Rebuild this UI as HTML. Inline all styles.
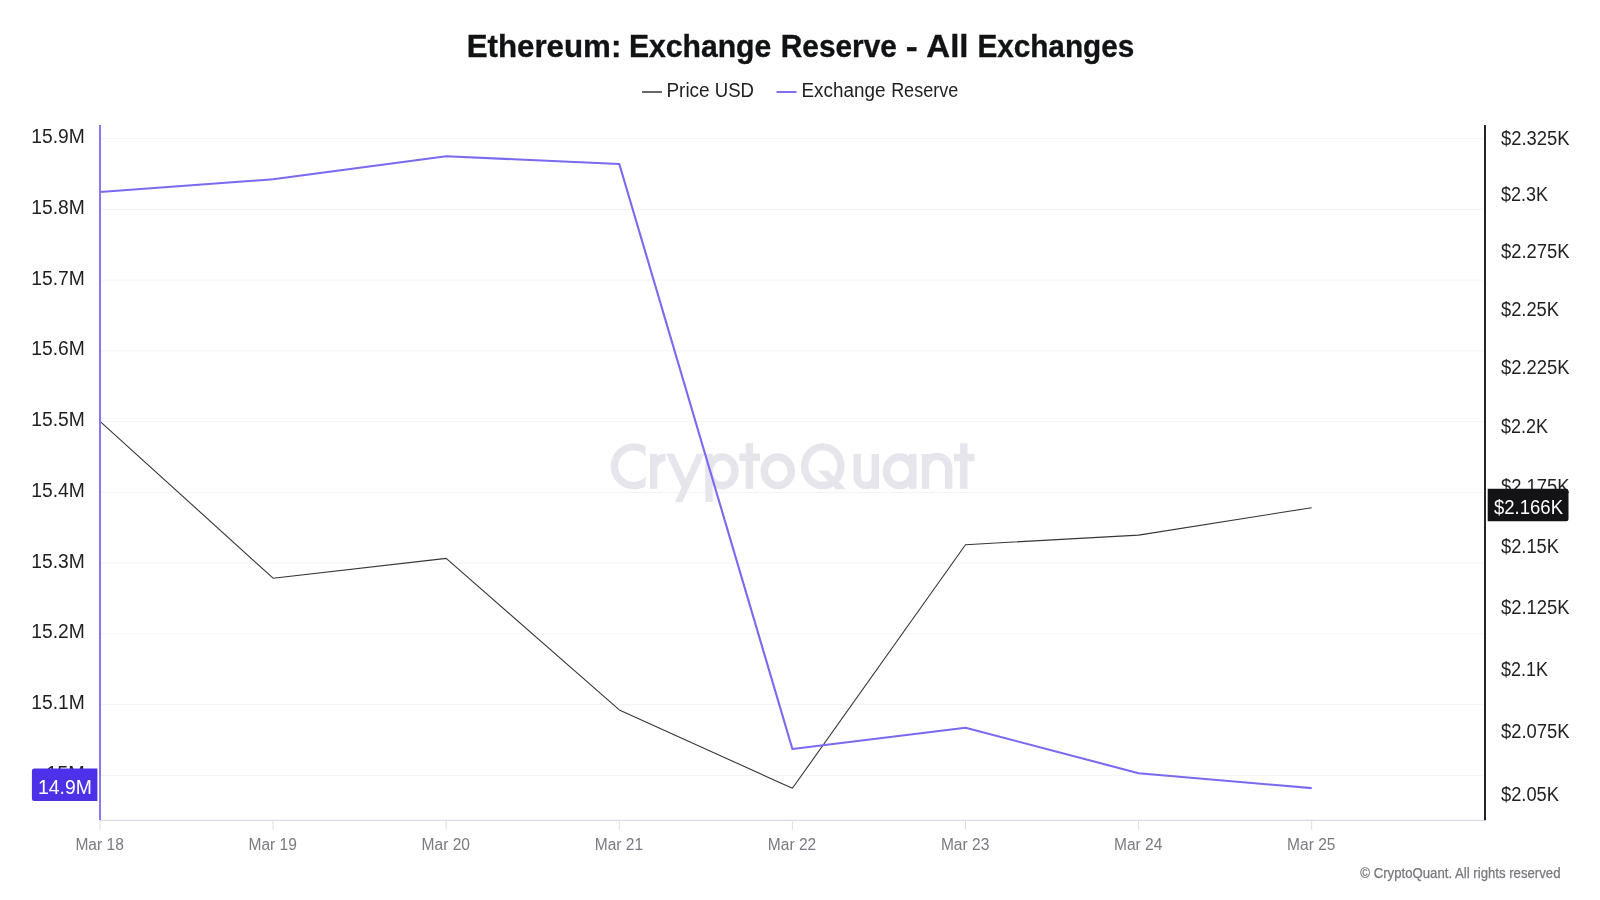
<!DOCTYPE html>
<html><head><meta charset="utf-8"><title>Ethereum: Exchange Reserve - All Exchanges</title>
<style>html,body{margin:0;padding:0;background:#fff;}body{width:1600px;height:900px;overflow:hidden;font-family:"Liberation Sans",sans-serif;}svg{display:block;position:absolute;left:0;top:0;will-change:transform}text{font-family:"Liberation Sans",sans-serif;}</style></head><body>
<svg width="1600" height="900" viewBox="0 0 1600 900">
<rect width="1600" height="900" fill="#ffffff"/>
<text x="466.63" y="57.1" font-size="31.6" font-weight="bold" fill="#111214" stroke="#111214" stroke-width="0.35" textLength="154.73" lengthAdjust="spacingAndGlyphs">Ethereum:</text>
<text x="628.90" y="57.1" font-size="31.6" font-weight="bold" fill="#111214" stroke="#111214" stroke-width="0.35" textLength="142.35" lengthAdjust="spacingAndGlyphs">Exchange</text>
<text x="780.78" y="57.1" font-size="31.6" font-weight="bold" fill="#111214" stroke="#111214" stroke-width="0.35" textLength="116.09" lengthAdjust="spacingAndGlyphs">Reserve</text>
<text x="905.75" y="57.1" font-size="31.6" font-weight="bold" fill="#111214" stroke="#111214" stroke-width="0.35" textLength="11.96" lengthAdjust="spacingAndGlyphs">-</text>
<text x="926.36" y="57.1" font-size="31.6" font-weight="bold" fill="#111214" stroke="#111214" stroke-width="0.35" textLength="42.15" lengthAdjust="spacingAndGlyphs">All</text>
<text x="977.39" y="57.1" font-size="31.6" font-weight="bold" fill="#111214" stroke="#111214" stroke-width="0.35" textLength="156.84" lengthAdjust="spacingAndGlyphs">Exchanges</text>
<line x1="642" y1="92" x2="662" y2="92" stroke="#6a6a6d" stroke-width="2"/>
<text x="666.47" y="96.9" font-size="19.4" fill="#1f1f1f" textLength="43.16" lengthAdjust="spacingAndGlyphs">Price</text>
<text x="714.74" y="96.9" font-size="19.4" fill="#1f1f1f" textLength="39.24" lengthAdjust="spacingAndGlyphs">USD</text>
<line x1="776.6" y1="92" x2="796.5" y2="92" stroke="#8070ef" stroke-width="2"/>
<text x="801.54" y="96.9" font-size="19.4" fill="#1f1f1f" textLength="83.87" lengthAdjust="spacingAndGlyphs">Exchange</text>
<text x="891.13" y="96.9" font-size="19.4" fill="#1f1f1f" textLength="67.04" lengthAdjust="spacingAndGlyphs">Reserve</text>
<line x1="100" y1="138.60" x2="1483" y2="138.60" stroke="#f3f3f6" stroke-width="1"/>
<line x1="100" y1="209.35" x2="1483" y2="209.35" stroke="#f3f3f6" stroke-width="1"/>
<line x1="100" y1="280.11" x2="1483" y2="280.11" stroke="#f3f3f6" stroke-width="1"/>
<line x1="100" y1="350.87" x2="1483" y2="350.87" stroke="#f3f3f6" stroke-width="1"/>
<line x1="100" y1="421.62" x2="1483" y2="421.62" stroke="#f3f3f6" stroke-width="1"/>
<line x1="100" y1="492.38" x2="1483" y2="492.38" stroke="#f3f3f6" stroke-width="1"/>
<line x1="100" y1="563.13" x2="1483" y2="563.13" stroke="#f3f3f6" stroke-width="1"/>
<line x1="100" y1="633.88" x2="1483" y2="633.88" stroke="#f3f3f6" stroke-width="1"/>
<line x1="100" y1="704.64" x2="1483" y2="704.64" stroke="#f3f3f6" stroke-width="1"/>
<line x1="100" y1="775.39" x2="1483" y2="775.39" stroke="#f3f3f6" stroke-width="1"/>
<g id="wm" fill="none" stroke="#e6e5ec" stroke-width="7.4" stroke-linejoin="miter" stroke-linecap="butt">
<clipPath id="cc"><rect x="600" y="430" width="45.6" height="80"/></clipPath>
<circle cx="633.8" cy="466.25" r="19.4" clip-path="url(#cc)"/>
<path d="M653.6 488.8 V453.8"/><path d="M653.6 470 A12 12 0 0 1 665.6 457.4"/>
<path d="M666.25 453.75 H674 L685.4 478.9 L681.6 487.4 Z M696.9 453.75 H704.4 L682.5 501.9 H675 Z" fill="#e6e5ec" stroke="none"/>
<path d="M709 453.8 V501.9"/><ellipse cx="722.1" cy="471.3" rx="13" ry="14.4"/>
<path d="M749.4 443.1 V488.8"/><path d="M739.4 457.2 H760"/>
<ellipse cx="777.8" cy="471.3" rx="13.55" ry="14.3"/>
<ellipse cx="822.8" cy="466.2" rx="18.1" ry="19.3"/>
<path d="M818.3 470.5 H828 L846 489.3 H836 Z" fill="#e6e5ec" stroke="none"/>
<path d="M857.2 454 V476.6 A9.05 9.05 0 0 0 875.3 476.6 V454 M875.3 470 V488.8"/>
<ellipse cx="899.6" cy="471.3" rx="13.2" ry="14.3"/><path d="M912.8 454 V488.8"/>
<path d="M925.5 454 V488.8 M925.5 468 A11.6 11.6 0 0 1 948.7 468 V488.8"/>
<path d="M963.8 443.2 V488.8"/><path d="M954 457.5 H974.5"/>
</g>
<line x1="100" y1="820.3" x2="1485" y2="820.3" stroke="#dbdae7" stroke-width="1.2"/>
<line x1="100.0" y1="820.5" x2="100.0" y2="829.8" stroke="#dcdce4" stroke-width="1"/>
<line x1="273.1" y1="820.5" x2="273.1" y2="829.8" stroke="#dcdce4" stroke-width="1"/>
<line x1="446.2" y1="820.5" x2="446.2" y2="829.8" stroke="#dcdce4" stroke-width="1"/>
<line x1="619.3" y1="820.5" x2="619.3" y2="829.8" stroke="#dcdce4" stroke-width="1"/>
<line x1="792.4" y1="820.5" x2="792.4" y2="829.8" stroke="#dcdce4" stroke-width="1"/>
<line x1="965.5" y1="820.5" x2="965.5" y2="829.8" stroke="#dcdce4" stroke-width="1"/>
<line x1="1138.6" y1="820.5" x2="1138.6" y2="829.8" stroke="#dcdce4" stroke-width="1"/>
<line x1="1311.7" y1="820.5" x2="1311.7" y2="829.8" stroke="#dcdce4" stroke-width="1"/>
<polyline points="100.0,421.3 273.1,578.2 446.2,558.4 619.3,709.9 792.4,788.3 965.5,544.7 1138.6,535.1 1311.7,507.7" fill="none" stroke="#36363a" stroke-width="1.1" stroke-linejoin="round"/>
<polyline points="100.0,192.0 273.1,179.3 446.2,156.2 619.3,164.0 792.4,749.0 965.5,727.7 1138.6,773.2 1311.7,788.1" fill="none" stroke="#7a69f1" stroke-width="2.1" stroke-linejoin="round"/>
<line x1="100" y1="125" x2="100" y2="820" stroke="#8877f0" stroke-width="2"/>
<line x1="1485" y1="125" x2="1485" y2="820.2" stroke="#26262a" stroke-width="2"/>
<text x="31.25" y="143.0" font-size="19.5" fill="#1f1f1f" textLength="53.5" lengthAdjust="spacingAndGlyphs">15.9M</text>
<text x="31.25" y="213.8" font-size="19.5" fill="#1f1f1f" textLength="53.5" lengthAdjust="spacingAndGlyphs">15.8M</text>
<text x="31.25" y="284.5" font-size="19.5" fill="#1f1f1f" textLength="53.5" lengthAdjust="spacingAndGlyphs">15.7M</text>
<text x="31.25" y="355.3" font-size="19.5" fill="#1f1f1f" textLength="53.5" lengthAdjust="spacingAndGlyphs">15.6M</text>
<text x="31.25" y="426.0" font-size="19.5" fill="#1f1f1f" textLength="53.5" lengthAdjust="spacingAndGlyphs">15.5M</text>
<text x="31.25" y="496.8" font-size="19.5" fill="#1f1f1f" textLength="53.5" lengthAdjust="spacingAndGlyphs">15.4M</text>
<text x="31.25" y="567.5" font-size="19.5" fill="#1f1f1f" textLength="53.5" lengthAdjust="spacingAndGlyphs">15.3M</text>
<text x="31.25" y="638.3" font-size="19.5" fill="#1f1f1f" textLength="53.5" lengthAdjust="spacingAndGlyphs">15.2M</text>
<text x="31.25" y="709.0" font-size="19.5" fill="#1f1f1f" textLength="53.5" lengthAdjust="spacingAndGlyphs">15.1M</text>
<text x="46.25" y="779.8" font-size="19.5" fill="#1f1f1f" textLength="38.5" lengthAdjust="spacingAndGlyphs">15M</text>
<text x="1501" y="144.5" font-size="19.5" fill="#1f1f1f" textLength="68.6" lengthAdjust="spacingAndGlyphs">$2.325K</text>
<text x="1501" y="200.6" font-size="19.5" fill="#1f1f1f" textLength="47.0" lengthAdjust="spacingAndGlyphs">$2.3K</text>
<text x="1501" y="257.6" font-size="19.5" fill="#1f1f1f" textLength="68.6" lengthAdjust="spacingAndGlyphs">$2.275K</text>
<text x="1501" y="315.5" font-size="19.5" fill="#1f1f1f" textLength="58.0" lengthAdjust="spacingAndGlyphs">$2.25K</text>
<text x="1501" y="373.8" font-size="19.5" fill="#1f1f1f" textLength="68.6" lengthAdjust="spacingAndGlyphs">$2.225K</text>
<text x="1501" y="432.7" font-size="19.5" fill="#1f1f1f" textLength="47.0" lengthAdjust="spacingAndGlyphs">$2.2K</text>
<text x="1501" y="492.8" font-size="19.5" fill="#1f1f1f" textLength="68.6" lengthAdjust="spacingAndGlyphs">$2.175K</text>
<text x="1501" y="552.6" font-size="19.5" fill="#1f1f1f" textLength="58.0" lengthAdjust="spacingAndGlyphs">$2.15K</text>
<text x="1501" y="613.8" font-size="19.5" fill="#1f1f1f" textLength="68.6" lengthAdjust="spacingAndGlyphs">$2.125K</text>
<text x="1501" y="675.5" font-size="19.5" fill="#1f1f1f" textLength="47.0" lengthAdjust="spacingAndGlyphs">$2.1K</text>
<text x="1501" y="737.9" font-size="19.5" fill="#1f1f1f" textLength="68.6" lengthAdjust="spacingAndGlyphs">$2.075K</text>
<text x="1501" y="801.3" font-size="19.5" fill="#1f1f1f" textLength="58.0" lengthAdjust="spacingAndGlyphs">$2.05K</text>
<text x="75.4" y="850.3" font-size="15.6" fill="#7a7a82" textLength="48.4" lengthAdjust="spacingAndGlyphs">Mar 18</text>
<text x="248.5" y="850.3" font-size="15.6" fill="#7a7a82" textLength="48.4" lengthAdjust="spacingAndGlyphs">Mar 19</text>
<text x="421.6" y="850.3" font-size="15.6" fill="#7a7a82" textLength="48.4" lengthAdjust="spacingAndGlyphs">Mar 20</text>
<text x="594.7" y="850.3" font-size="15.6" fill="#7a7a82" textLength="48.4" lengthAdjust="spacingAndGlyphs">Mar 21</text>
<text x="767.8" y="850.3" font-size="15.6" fill="#7a7a82" textLength="48.4" lengthAdjust="spacingAndGlyphs">Mar 22</text>
<text x="940.9" y="850.3" font-size="15.6" fill="#7a7a82" textLength="48.4" lengthAdjust="spacingAndGlyphs">Mar 23</text>
<text x="1114.0" y="850.3" font-size="15.6" fill="#7a7a82" textLength="48.4" lengthAdjust="spacingAndGlyphs">Mar 24</text>
<text x="1287.1" y="850.3" font-size="15.6" fill="#7a7a82" textLength="48.4" lengthAdjust="spacingAndGlyphs">Mar 25</text>
<path d="M34.4 768.5 H97.4 V800.9 H34.4 A2.5 2.5 0 0 1 31.9 798.4 V771 A2.5 2.5 0 0 1 34.4 768.5 Z" fill="#4c31e9"/>
<text x="38.05" y="793.8" font-size="19.5" fill="#ffffff" textLength="53.9" lengthAdjust="spacingAndGlyphs">14.9M</text>
<path d="M1487.7 488.7 H1566 A2.5 2.5 0 0 1 1568.5 491.2 V518.7 A2.5 2.5 0 0 1 1566 521.2 H1487.7 Z" fill="#131316"/>
<text x="1494" y="513.6" font-size="19.5" fill="#ffffff" textLength="69" lengthAdjust="spacingAndGlyphs">$2.166K</text>
<text x="1360.3" y="877.7" font-size="14.8" fill="#77777c" stroke="#77777c" stroke-width="0.25" textLength="200.2" lengthAdjust="spacingAndGlyphs">© CryptoQuant. All rights reserved</text>
</svg></body></html>
